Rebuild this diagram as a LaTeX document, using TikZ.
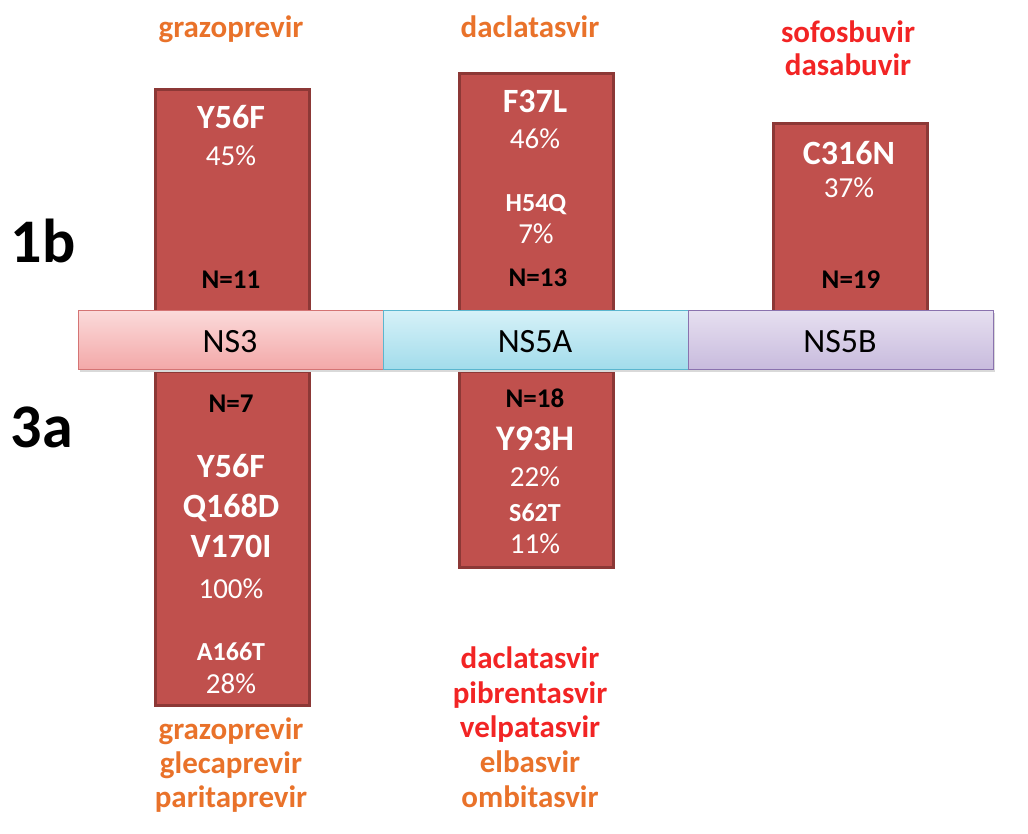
\documentclass[tikz,border=0pt]{standalone}
\usepackage{fontspec}
\setmainfont{Carlito}
\definecolor{boxfill}{HTML}{C0504D}
\definecolor{boxdraw}{HTML}{8C3836}
\definecolor{drugorange}{HTML}{E9722A}
\definecolor{drugred}{HTML}{F22424}
\definecolor{nsthreetop}{HTML}{FBDADA}
\definecolor{nsthreebot}{HTML}{F3A8A8}
\definecolor{nsthreedraw}{HTML}{D47474}
\definecolor{nsfiveatop}{HTML}{D6F1F8}
\definecolor{nsfiveabot}{HTML}{A2DCEB}
\definecolor{nsfiveadraw}{HTML}{5BB6CF}
\definecolor{nsfivebtop}{HTML}{E6DFF0}
\definecolor{nsfivebbot}{HTML}{C8BBDD}
\definecolor{nsfivebdraw}{HTML}{8A72AE}
\tikzset{
  mutbox/.style={draw=boxdraw, line width=3pt, fill=boxfill, inner sep=0pt, anchor=north west},
  seg/.style={line width=1.2pt, inner sep=0pt, anchor=north west, minimum height=59pt, minimum width=305pt},
  segtext/.style={anchor=base, inner sep=0pt, text=black, font=\fontsize{34}{40}\selectfont},
  mut/.style={anchor=base, inner sep=0pt, text=white, font=\fontsize{34}{40}\selectfont\bfseries},
  bigmut/.style={mut, font=\fontsize{36}{42}\selectfont\bfseries},
  smut/.style={anchor=base, inner sep=0pt, text=white, font=\fontsize{26}{30}\selectfont\bfseries},
  pct/.style={anchor=base, inner sep=0pt, text=white, font=\fontsize{29}{34}\selectfont},
  nlab/.style={anchor=base, inner sep=0pt, text=black, font=\fontsize{27}{32}\selectfont\bfseries},
  drug/.style={anchor=base, inner sep=0pt, font=\fontsize{31}{36}\selectfont\bfseries},
  drugO/.style={drug, text=drugorange},
  drugR/.style={drug, text=drugred},
  geno/.style={anchor=base, inner sep=0pt, text=black, font=\fontsize{62}{70}\selectfont\bfseries},
}
\begin{document}
\begin{tikzpicture}[x=1pt,y=-1pt]
\useasboundingbox (0,0) rectangle (1028,833);
% mutation boxes
\node[mutbox, minimum width=154pt, minimum height=222pt] (b3top) at (154,88) {};
\node[mutbox, minimum width=154pt, minimum height=334pt] (b3bot) at (154,370) {};
\node[mutbox, minimum width=154pt, minimum height=238pt] (b5atop) at (458,72) {};
\node[mutbox, minimum width=154pt, minimum height=196pt] (b5abot) at (458,370) {};
\node[mutbox, minimum width=154pt, minimum height=188pt] (b5btop) at (772,122) {};
% shadow of the band
\fill[black!15] (80,313) rectangle (995,372);
% band segments
\node[seg, draw=nsthreedraw, top color=nsthreetop, bottom color=nsthreebot] (ns3) at (78,310) {};
\node[seg, draw=nsfiveadraw, top color=nsfiveatop, bottom color=nsfiveabot] (ns5a) at (383,310) {};
\node[seg, draw=nsfivebdraw, top color=nsfivebtop, bottom color=nsfivebbot] (ns5b) at (688,310) {};
\node[segtext] (t3) at (230,352) {NS3};
\node[segtext] (t5a) at (535,352) {NS5A};
\node[segtext] (t5b) at (840,352) {NS5B};
% genotype labels
\node[geno] (g1b) at (43,262) {1b};
\node[geno] (g3a) at (42,447) {3a};
% NS3 top
\node[mut] (m1) at (231,128) {Y56F};
\node[pct] (p1) at (231,165) {45\%};
\node[nlab] (n1) at (231,288) {N=11};
% NS5A top
\node[mut] (m2) at (535,112) {F37L};
\node[pct] (p2) at (535,148) {46\%};
\node[smut] (m3) at (536,211) {H54Q};
\node[pct] (p3) at (536,243) {7\%};
\node[nlab] (n2) at (538,286) {N=13};
% NS5B top
\node[mut] (m4) at (849,164) {C316N};
\node[pct] (p4) at (849,197) {37\%};
\node[nlab] (n3) at (851,288) {N=19};
% NS3 bottom
\node[nlab] (n4) at (231,412) {N=7};
\node[mut] (m5) at (231,477) {Y56F};
\node[mut] (m6) at (231,517) {Q168D};
\node[mut] (m7) at (231,557) {V170I};
\node[pct] (p5) at (231,598) {100\%};
\node[smut] (m8) at (231,660) {A166T};
\node[pct] (p6) at (231,693) {28\%};
% NS5A bottom
\node[nlab] (n5) at (535,407) {N=18};
\node[bigmut] (m9) at (535,450) {Y93H};
\node[pct] (p7) at (535,486) {22\%};
\node[smut] (m10) at (535,521) {S62T};
\node[pct] (p8) at (535,553) {11\%};
% drugs top
\node[drugO] (d1) at (231,37) {grazoprevir};
\node[drugO] (d2) at (530,37) {daclatasvir};
\node[drugR] (d3) at (848,42) {sofosbuvir};
\node[drugR] (d4) at (848,75) {dasabuvir};
% drugs bottom left
\node[drugO] (d5) at (231,739) {grazoprevir};
\node[drugO] (d6) at (231,773) {glecaprevir};
\node[drugO] (d7) at (231,807) {paritaprevir};
% drugs bottom middle
\node[drugR] (d8) at (530,668) {daclatasvir};
\node[drugR] (d9) at (530,703) {pibrentasvir};
\node[drugR] (d10) at (530,737) {velpatasvir};
\node[drugO] (d11) at (530,772) {elbasvir};
\node[drugO] (d12) at (530,807) {ombitasvir};
\end{tikzpicture}
\end{document}
